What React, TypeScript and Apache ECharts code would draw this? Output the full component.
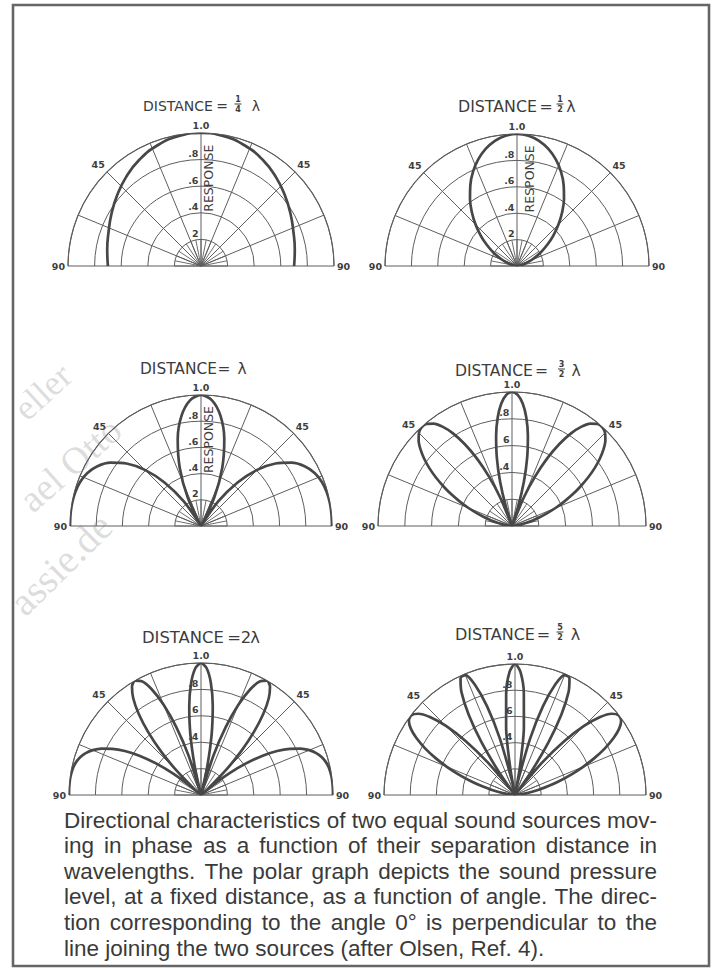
import React, { useEffect, useRef } from "react";
import * as echarts from "echarts";

// ---------------- data ----------------
const plotDistances = ["1/4", "1/2", "1", "3/2", "2", "5/2"];
const titleWord = "DISTANCE";
const titleNumerators = ["1", "1", "", "3", "2", "5"];
const titleDenominators = ["4", "2", "", "2", "", "2"];

const angleTickLabels: Record<string, string> = { "0": "1.0", "45": "45", "-45": "45", "90": "90", "-90": "90" };
const ringValuesA = [0.8, 0.6, 0.4, 0.2];
const ringLabelsA = [".8", ".6", ".4", "2"];
const ringValuesB = [0.8, 0.6, 0.4];
const ringLabelsB = [".8", "6", ".4"];
const axisTitle = "RESPONSE";

// response vs. angle (degrees from the perpendicular), one half; the other half is its mirror
const quarterAngles = [0, 10, 20, 30, 40, 50, 60, 70, 80, 90];
const quarterResp = [1, 0.991, 0.964, 0.924, 0.875, 0.824, 0.778, 0.74, 0.716, 0.7];

const halfAngles = [0, 5, 10, 15, 20, 25, 30, 35, 40, 45, 50, 55, 60, 65, 70, 75, 80, 85, 90];
const halfResp = [1, 0.991, 0.963, 0.918, 0.859, 0.788, 0.707, 0.621, 0.532, 0.444, 0.359, 0.28, 0.209, 0.147, 0.095, 0.054, 0.024, 0.006, 0];

const oneAngles = [0, 5, 10, 15, 20, 25, 30, 35, 40, 45, 50, 55, 60, 65, 70, 75, 80, 85, 90];
const oneResp = [1, 0.963, 0.855, 0.687, 0.476, 0.241, 0, 0.229, 0.434, 0.606, 0.742, 0.843, 0.913, 0.957, 0.982, 0.994, 0.999, 1.0, 1];

const threeHalfAngles = [0, 2.5, 5, 7.5, 10, 12.5, 15, 17.5, 19.47, 22.5, 25, 27.5, 30, 32.5, 35, 37.5, 40, 42.5, 45, 47.5, 50, 52.5, 55, 57.5, 60, 62.5, 65, 67.5, 70, 72.5, 75, 77.5, 80, 82.5, 85, 87.5, 90];
const threeHalfResp = [1, 0.979, 0.917, 0.817, 0.683, 0.523, 0.344, 0.153, 0, 0.23, 0.409, 0.569, 0.707, 0.82, 0.905, 0.963, 0.994, 0.999, 0.982, 0.945, 0.892, 0.827, 0.753, 0.673, 0.59, 0.508, 0.427, 0.351, 0.28, 0.216, 0.16, 0.111, 0.072, 0.04, 0.018, 0.004, 0];

const twoAngles = [0, 2.5, 5, 7.5, 10, 12.5, 14.48, 17.5, 20, 22.5, 25, 27.5, 30, 32.5, 35, 37.5, 40, 42.5, 45, 47.5, 48.59, 50, 52.5, 55, 57.5, 60, 62.5, 65, 67.5, 70, 72.5, 75, 77.5, 80, 82.5, 85, 87.5, 90];
const twoResp = [1, 0.963, 0.854, 0.682, 0.462, 0.209, 0, 0.313, 0.547, 0.74, 0.884, 0.971, 1, 0.973, 0.895, 0.776, 0.624, 0.451, 0.266, 0.08, 0, 0.101, 0.269, 0.421, 0.554, 0.666, 0.758, 0.832, 0.888, 0.929, 0.958, 0.977, 0.989, 0.995, 0.999, 1.0, 1.0, 1];

const fiveHalfAngles = [0, 2.5, 5, 7.5, 10, 11.54, 12.5, 15, 17.5, 20, 22.5, 25, 27.5, 30, 32.5, 35, 36.87, 37.5, 40, 42.5, 45, 47.5, 50, 52.5, 55, 57.5, 60, 62.5, 65, 67.5, 70, 72.5, 75, 77.5, 80, 82.5, 85, 87.5, 90];
const fiveHalfResp = [1, 0.942, 0.775, 0.519, 0.206, 0, 0.129, 0.446, 0.711, 0.898, 0.991, 0.984, 0.885, 0.707, 0.473, 0.206, 0, 0.069, 0.33, 0.559, 0.745, 0.881, 0.965, 0.999, 0.989, 0.943, 0.869, 0.776, 0.671, 0.563, 0.456, 0.356, 0.264, 0.185, 0.119, 0.067, 0.03, 0.008, 0];

const captionLines = [
  "Directional characteristics of two equal sound sources mov-",
  "ing in phase as a function of their separation distance in",
  "wavelengths. The polar graph depicts the sound pressure",
  "level, at a fixed distance, as a function of angle. The direc-",
  "tion corresponding to the angle 0° is perpendicular to the",
  "line joining the two sources (after Olsen, Ref. 4).",
];

const watermarkWords = ["eller", "ael Otto", "assie.de"];

// ---------------- layout / style ----------------
const INK = "#474747";
const GRID = "#5e5e5e";
const LABEL_FONT = '"DejaVu Sans", sans-serif';
const CAPTION_FONT_FAMILY = '"Liberation Sans", Arial, sans-serif';
const CAPTION_SIZE = 22.5;
const CAPTION_LEFT = 64;
const CAPTION_RIGHT = 657;

const curves = [
  { angles: quarterAngles, resp: quarterResp, smooth: 0.5 },
  { angles: halfAngles, resp: halfResp, smooth: 0.4 },
  { angles: oneAngles, resp: oneResp, smooth: 0.3 },
  { angles: threeHalfAngles, resp: threeHalfResp, smooth: 0.25 },
  { angles: twoAngles, resp: twoResp, smooth: 0.25 },
  { angles: fiveHalfAngles, resp: fiveHalfResp, smooth: 0.25 },
];

const plots = [
  { cx: 201, cy: 266, r: 133, ty: 106, size: 14, wordDx: -58, eqDx: 21, fracDx: 37, lamDx: 55, rings: "A", respDx: 7 },
  { cx: 517, cy: 266, r: 132, ty: 106, size: 15.8, wordDx: -59, eqDx: 29, fracDx: 43, lamDx: 54, rings: "A", respDx: 12 },
  { cx: 201, cy: 526, r: 131, ty: 369, size: 15.4, wordDx: -61, eqDx: 23, fracDx: 0, lamDx: 41, rings: "A", respDx: 7 },
  { cx: 512, cy: 526, r: 134, ty: 371, size: 15.6, wordDx: -57, eqDx: 29.5, fracDx: 49.5, lamDx: 64, rings: "B", respDx: 0 },
  { cx: 201, cy: 795, r: 132, ty: 637, size: 16.4, wordDx: -59, eqDx: 33, fracDx: 45, lamDx: 54, rings: "B", respDx: 0 },
  { cx: 515, cy: 795, r: 131, ty: 634, size: 16, wordDx: -60, eqDx: 28.5, fracDx: 45, lamDx: 60.5, rings: "B", respDx: 0 },
];

function mirrored(angles: number[], resp: number[]) {
  const left = angles.map((a, i) => [resp[i], -a]).reverse();
  const right = angles.slice(1).map((a, i) => [resp[i + 1], a]);
  return [...left, ...right];
}

function txt(text: string, x: number, y: number, size: number, opts: any = {}) {
  return {
    type: "text",
    x,
    y,
    rotation: opts.rotation || 0,
    silent: true,
    z: 10,
    style: {
      text,
      fill: opts.fill || INK,
      fontSize: size,
      fontFamily: opts.family || LABEL_FONT,
      fontWeight: opts.weight || "normal",
      align: opts.align || "center",
      verticalAlign: opts.valign || "middle",
    },
  };
}

let measureCtx: CanvasRenderingContext2D | null = null;
function measure(text: string, size: number) {
  if (!measureCtx) measureCtx = document.createElement("canvas").getContext("2d");
  if (!measureCtx) return text.length * size * 0.5;
  measureCtx.font = `${size}px ${CAPTION_FONT_FAMILY}`;
  return measureCtx.measureText(text).width;
}

function buildOption() {
  const polar: any[] = [];
  const angleAxis: any[] = [];
  const radiusAxis: any[] = [];
  const series: any[] = [];
  const graphic: any[] = [];

  plots.forEach((p, i) => {
    polar.push({ center: [p.cx, p.cy], radius: p.r });
    angleAxis.push({
      polarIndex: 2 * i,
      type: "value",
      min: -90,
      max: 90,
      interval: 22.5,
      startAngle: 180,
      endAngle: 0,
      clockwise: true,
      axisLine: { show: true, lineStyle: { color: GRID, width: 1.1 } },
      axisTick: { show: false },
      axisLabel: {
        show: true,
        margin: 3,
        showMinLabel: true,
        showMaxLabel: true,
        color: "#3e3e3e",
        fontSize: 9.5,
        fontWeight: "bold",
        fontFamily: LABEL_FONT,
        formatter: (v: number) => angleTickLabels[String(v)] || "",
      },
      splitLine: { show: true, lineStyle: { color: GRID, width: 1 } },
    });
    radiusAxis.push({
      polarIndex: 2 * i,
      type: "value",
      min: 0,
      max: 1,
      interval: 0.2,
      axisLine: { show: false },
      axisTick: { show: false },
      axisLabel: { show: false },
      splitLine: { show: true, lineStyle: { color: GRID, width: 1 } },
    });
    polar.push({ center: [p.cx, p.cy], radius: p.r * 0.2 });
    angleAxis.push({
      polarIndex: 2 * i + 1,
      type: "value",
      min: -90,
      max: 90,
      interval: 11.25,
      startAngle: 180,
      endAngle: 0,
      clockwise: true,
      axisLine: { show: false },
      axisTick: { show: false },
      axisLabel: { show: false },
      splitLine: { show: true, lineStyle: { color: GRID, width: 0.9 } },
    });
    radiusAxis.push({
      polarIndex: 2 * i + 1,
      type: "value",
      min: 0,
      max: 1,
      axisLine: { show: false },
      axisTick: { show: false },
      axisLabel: { show: false },
      splitLine: { show: false },
    });

    const c = curves[i];
    series.push({
      type: "line",
      name: "DISTANCE = " + plotDistances[i] + " λ",
      coordinateSystem: "polar",
      polarIndex: 2 * i,
      data: mirrored(c.angles, c.resp),
      symbol: "none",
      showSymbol: false,
      smooth: c.smooth,
      silent: true,
      clip: false,
      lineStyle: { color: INK, width: 2.7 },
      z: 5,
    });

    // title
    const tf = { family: LABEL_FONT, fill: "#3c3c3c" };
    graphic.push(txt(titleWord, p.cx + p.wordDx, p.ty, p.size, { ...tf, align: "left" }));
    graphic.push(txt("=", p.cx + p.eqDx, p.ty, p.size, tf));
    if (titleDenominators[i]) {
      const fx = p.cx + p.fracDx;
      graphic.push(txt(titleNumerators[i], fx, p.ty - 6.5, 8, { ...tf, weight: "bold" }));
      graphic.push({
        type: "line",
        silent: true,
        z: 10,
        shape: { x1: fx - 3.5, y1: p.ty - 2, x2: fx + 3.5, y2: p.ty - 2 },
        style: { stroke: "#3c3c3c", lineWidth: 1 },
      });
      graphic.push(txt(titleDenominators[i], fx, p.ty + 3.5, 8, { ...tf, weight: "bold" }));
    } else if (titleNumerators[i]) {
      graphic.push(txt(titleNumerators[i], p.cx + p.fracDx, p.ty, p.size, tf));
    }
    graphic.push(txt("λ", p.cx + p.lamDx, p.ty, p.size, tf));

    // ring labels
    const vals = p.rings === "A" ? ringValuesA : ringValuesB;
    const labs = p.rings === "A" ? ringLabelsA : ringLabelsB;
    vals.forEach((v, k) => {
      graphic.push(
        txt(labs[k], p.cx - 2.5, p.cy - v * p.r - 6, 9.5, { align: "right", weight: "bold", fill: "#3e3e3e" })
      );
    });
    if (p.rings === "A") {
      graphic.push(
        txt(axisTitle, p.cx + p.respDx, p.cy - 0.66 * p.r, 12.5, {
          rotation: Math.PI / 2,
          fill: "#3e3e3e",
        })
      );
    }
  });

  // frame
  graphic.push({
    type: "rect",
    silent: true,
    z: 1,
    shape: { x: 13, y: 5, width: 696, height: 961 },
    style: { fill: "transparent", stroke: "#666666", lineWidth: 2.6 },
  });

  // caption, justified like the printed block
  const capOpts = { align: "left", family: CAPTION_FONT_FAMILY, fill: "#3a3a3a" };
  captionLines.forEach((line, k) => {
    const y = 820 + k * 25.6;
    if (k === captionLines.length - 1) {
      graphic.push(txt(line, CAPTION_LEFT, y, CAPTION_SIZE, capOpts));
      return;
    }
    const words = line.split(" ");
    const widths = words.map((w) => measure(w, CAPTION_SIZE));
    const total = widths.reduce((a, b) => a + b, 0);
    const gap = (CAPTION_RIGHT - CAPTION_LEFT - total) / (words.length - 1);
    let x = CAPTION_LEFT;
    words.forEach((w, j) => {
      graphic.push(txt(w, x, y, CAPTION_SIZE, capOpts));
      x += widths[j] + gap;
    });
  });

  // faint scan watermark
  const wm = [
    { x: 7, y: 400, rot: 0.74, size: 36 },
    { x: 12, y: 490, rot: 0.72, size: 38 },
    { x: 2, y: 594, rot: 0.78, size: 40 },
  ];
  watermarkWords.forEach((w, k) => {
    graphic.push(
      txt(w, wm[k].x, wm[k].y, wm[k].size, {
        align: "left",
        valign: "alphabetic",
        rotation: wm[k].rot,
        family: '"Liberation Serif", "DejaVu Serif", serif',
        fill: "rgba(120,120,120,0.26)",
      })
    );
  });

  return {
    animation: false,
    backgroundColor: "#ffffff",
    polar,
    angleAxis,
    radiusAxis,
    series,
    graphic: { elements: graphic },
  };
}

export default function App() {
  const ref = useRef<HTMLDivElement>(null);
  useEffect(() => {
    if (!ref.current) return;
    const chart = echarts.init(ref.current, null, { renderer: "svg", width: 716, height: 970 });
    chart.setOption(buildOption() as any);
    return () => chart.dispose();
  }, []);
  return (
    <div
      ref={ref}
      style={{ position: "absolute", left: 0, top: 0, width: 716, height: 970, background: "#fff" }}
    />
  );
}
